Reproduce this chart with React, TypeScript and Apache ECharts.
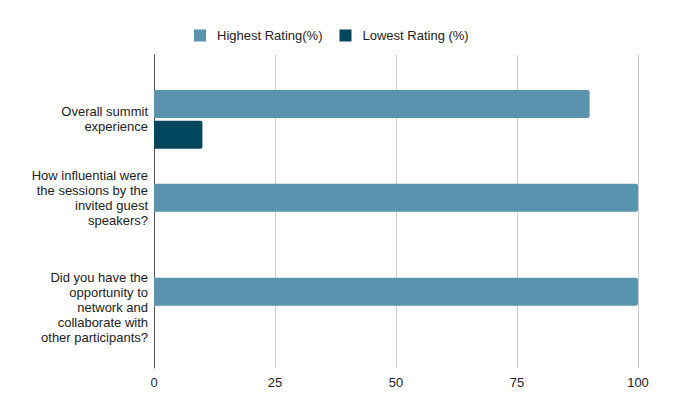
import React, { useEffect, useRef } from "react";
import * as echarts from "echarts";

const categories = [
  "Overall summit\nexperience",
  "How influential were\nthe sessions by the\ninvited guest\nspeakers?",
  "Did you have the\nopportunity to\nnetwork and\ncollaborate with\nother participants?",
];
const highestRating = [90, 100, 100];
const lowestRating = [10, 0, 0];
const seriesNames = ["Highest Rating(%)", "Lowest Rating (%)"];
const xTicks = { min: 0, max: 100, interval: 25 };

export default function App() {
  const ref = useRef<HTMLDivElement>(null);
  useEffect(() => {
    if (!ref.current) return;
    const chart = echarts.init(ref.current, null, { renderer: "svg" });
    const font = "'Liberation Sans', Arial, sans-serif";
    chart.setOption({
      animation: false,
      backgroundColor: "#ffffff",
      textStyle: { fontFamily: font },
      legend: {
        top: 29,
        left: 194,
        padding: 0,
        itemWidth: 12,
        itemHeight: 12,
        itemGap: 17,
        icon: "rect",
        data: seriesNames,
        textStyle: { fontSize: 13, color: "#222222", fontFamily: font, padding: [0, 0, 0, 6] },
      },
      grid: [
        { left: 154, right: 38, top: 55, bottom: 28 },
        { left: 154, right: 38, top: 72.5, bottom: 42 },
      ],
      xAxis: [
        {
          gridIndex: 0,
          type: "value",
          min: xTicks.min,
          max: xTicks.max,
          interval: xTicks.interval,
          axisLine: { show: false },
          axisTick: { show: false },
          axisLabel: { color: "#222222", fontSize: 13, margin: 8, fontFamily: font },
          splitLine: { show: true, lineStyle: { color: "#cccccc", width: 1 } },
        },
        {
          gridIndex: 1,
          type: "value",
          min: xTicks.min,
          max: xTicks.max,
          interval: xTicks.interval,
          show: false,
          splitLine: { show: false },
        },
      ],
      yAxis: [
        {
          gridIndex: 0,
          type: "category",
          data: [""],
          axisLine: { show: true, lineStyle: { color: "#555555", width: 1 } },
          axisTick: { show: false },
          axisLabel: { show: false },
          splitLine: { show: false },
        },
        {
          gridIndex: 1,
          type: "category",
          inverse: true,
          data: categories,
          axisLine: { show: false },
          axisTick: { show: false },
          axisLabel: {
            color: "#222222",
            fontSize: 13,
            lineHeight: 15,
            margin: 6,
            align: "right",
            fontFamily: font,
            formatter: (v: string, i: number) => (i === 1 ? v + "\n{gap|}" : v),
            rich: { gap: { height: 30, lineHeight: 30 } },
          },
          splitLine: { show: false },
        },
      ],
      series: [
        {
          name: seriesNames[0],
          type: "bar",
          xAxisIndex: 1,
          yAxisIndex: 1,
          data: highestRating,
          barWidth: 28,
          barGap: "10%",
          itemStyle: { color: "#5a93ae", borderRadius: [0, 2, 2, 0] },
        },
        {
          name: seriesNames[1],
          type: "bar",
          xAxisIndex: 1,
          yAxisIndex: 1,
          data: lowestRating,
          barWidth: 28,
          barGap: "10%",
          itemStyle: { color: "#02465e", borderRadius: [0, 2, 2, 0] },
        },
      ],
    });
    return () => chart.dispose();
  }, []);
  return <div ref={ref} style={{ width: 676, height: 396, position: "absolute", left: 0, top: 0 }} />;
}
